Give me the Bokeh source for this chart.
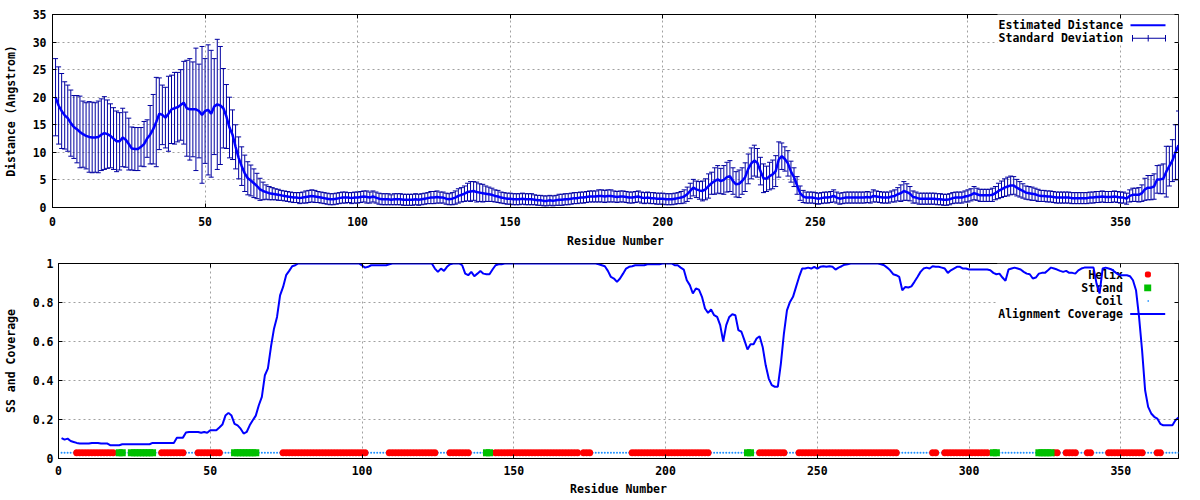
from bokeh.plotting import figure
from bokeh.layouts import column
from bokeh.models import (ColumnDataSource, Range1d, FixedTicker, LinearAxis, Whisker,
                          TeeHead, Label, BoxAnnotation, CustomJSTickFormatter)
from bokeh.embed import file_html
from bokeh.resources import INLINE

# ---------------- data ----------------
residues = list(range(1, 370))

distance = [
    20.0, 18.5, 17.5, 16.7, 16.2, 15.3, 14.6, 14.2, 13.7, 13.3,
    13.0, 12.8, 12.7, 12.7, 12.8, 13.2, 13.5, 13.3, 13.0, 12.5,
    12.0, 12.0, 12.7, 12.3, 11.5, 10.7, 10.6, 10.6, 11.0, 11.5,
    12.5, 13.2, 14.2, 15.5, 17.0, 16.8, 16.3, 17.0, 17.8, 18.0,
    18.2, 18.6, 19.0, 18.0, 17.8, 17.8, 17.8, 17.5, 16.8, 17.5,
    17.7, 17.0, 18.3, 18.7, 18.5, 18.0, 16.5, 14.5, 13.2, 11.0,
    9.0, 7.5, 6.2, 5.3, 4.9, 4.4, 3.9, 3.3, 3.0, 2.8,
    2.6, 2.5, 2.4, 2.3, 2.2, 2.1, 2.0, 1.9, 1.8, 1.8,
    1.7, 1.8, 1.9, 2.0, 2.1, 2.0, 1.9, 1.8, 1.7, 1.6,
    1.5, 1.5, 1.6, 1.7, 1.8, 1.8, 1.8, 1.7, 1.8, 1.8,
    1.9, 2.0, 1.9, 1.8, 2.0, 1.8, 1.6, 1.5, 1.5, 1.5,
    1.4, 1.5, 1.5, 1.5, 1.4, 1.4, 1.4, 1.4, 1.5, 1.4,
    1.5, 1.6, 1.7, 1.8, 1.8, 1.9, 1.8, 1.8, 1.6, 1.5,
    1.6, 1.8, 2.1, 2.3, 2.5, 2.8, 2.9, 3.0, 2.8, 2.7,
    2.6, 2.5, 2.4, 2.3, 2.1, 2.0, 1.8, 1.7, 1.6, 1.6,
    1.5, 1.5, 1.5, 1.6, 1.5, 1.5, 1.5, 1.4, 1.3, 1.3,
    1.2, 1.2, 1.3, 1.2, 1.3, 1.4, 1.4, 1.5, 1.5, 1.6,
    1.7, 1.7, 1.8, 1.8, 1.9, 2.0, 2.0, 2.0, 2.1, 2.1,
    2.0, 2.1, 2.1, 2.0, 1.9, 2.0, 2.0, 1.9, 1.8, 1.8,
    1.9, 2.0, 1.8, 1.7, 1.8, 1.7, 1.7, 1.6, 1.6, 1.6,
    1.5, 1.5, 1.5, 1.6, 1.7, 1.8, 2.0, 2.4, 3.0, 3.6,
    3.3, 3.1, 3.0, 3.3, 3.9, 4.4, 4.8, 5.1, 4.8, 5.0,
    5.5, 5.7, 4.8, 4.2, 4.3, 4.8, 5.5, 7.0, 8.0, 8.5,
    8.1, 6.6, 5.3, 5.2, 5.7, 6.0, 6.6, 8.7, 9.3, 8.8,
    8.0, 6.5, 5.5, 4.0, 2.6, 2.0, 1.8, 1.8, 1.8, 1.7,
    1.6, 1.7, 1.8, 1.8, 1.9, 2.1, 1.8, 1.6, 1.7, 1.8,
    1.8, 1.8, 1.8, 1.8, 1.8, 1.8, 1.9, 1.8, 2.1, 2.0,
    1.9, 1.8, 1.8, 1.8, 2.0, 2.1, 2.4, 2.6, 3.0, 2.8,
    2.5, 1.9, 1.8, 1.6, 1.6, 1.6, 1.6, 1.6, 1.6, 1.5,
    1.5, 1.4, 1.4, 1.5, 1.7, 1.8, 1.8, 1.8, 2.0, 2.1,
    2.3, 2.6, 2.4, 2.2, 2.2, 2.2, 2.2, 2.3, 2.6, 3.0,
    3.3, 3.6, 3.8, 4.0, 4.0, 3.6, 3.3, 3.0, 2.7, 2.6,
    2.5, 2.4, 2.2, 2.1, 2.1, 2.0, 2.0, 1.9, 1.8, 1.8,
    1.8, 1.8, 1.8, 1.7, 1.7, 1.7, 1.7, 1.7, 1.7, 1.8,
    1.8, 1.9, 1.9, 2.0, 1.9, 1.9, 1.9, 2.0, 1.9, 1.8,
    1.8, 1.6, 2.1, 2.3, 2.3, 2.3, 2.6, 3.3, 3.6, 3.6,
    3.8, 5.1, 5.1, 5.2, 6.5, 7.5, 8.5, 10.0, 11.3,
]

std_dev = [
    7.0, 7.0, 6.8, 6.1, 6.0, 6.0, 5.7, 6.1, 6.5, 6.0,
    6.0, 6.4, 6.4, 6.3, 6.5, 6.5, 6.6, 6.2, 5.8, 5.6,
    5.5, 5.2, 5.3, 5.0, 4.7, 3.9, 3.9, 3.9, 3.5, 4.1,
    3.4, 5.3, 6.3, 8.1, 6.5, 5.4, 5.5, 6.8, 6.2, 6.5,
    6.3, 6.4, 7.5, 8.7, 9.2, 8.6, 11.1, 8.5, 12.4, 9.5,
    11.8, 11.5, 8.7, 11.8, 10.7, 7.2, 5.8, 5.5, 4.5, 4.0,
    3.8, 3.5, 3.3, 3.0, 2.8, 2.6, 2.3, 2.0, 1.6, 1.3,
    1.2, 1.1, 1.0, 1.0, 0.9, 0.9, 0.9, 0.9, 0.9, 0.9,
    1.0, 1.0, 1.1, 1.1, 1.1, 1.1, 1.0, 1.0, 1.0, 1.0,
    1.0, 1.0, 1.0, 1.0, 1.0, 1.0, 0.9, 1.0, 1.0, 1.0,
    1.0, 1.0, 1.1, 1.0, 1.0, 1.0, 1.0, 1.0, 1.0, 1.0,
    0.9, 1.0, 1.0, 1.0, 1.0, 1.0, 1.0, 1.0, 1.0, 1.0,
    1.0, 1.0, 1.0, 1.1, 1.1, 1.1, 1.0, 1.0, 1.0, 1.0,
    1.1, 1.2, 1.3, 1.3, 1.4, 1.6, 1.8, 1.7, 1.8, 1.6,
    1.6, 1.4, 1.3, 1.2, 1.1, 1.1, 1.0, 1.0, 1.0, 1.0,
    1.0, 1.0, 1.0, 1.0, 1.0, 1.0, 1.0, 0.9, 0.9, 0.9,
    0.9, 0.9, 0.9, 0.9, 0.9, 1.0, 1.0, 1.0, 1.0, 1.0,
    1.0, 1.0, 1.0, 1.0, 1.0, 1.0, 1.0, 1.0, 1.1, 1.1,
    1.1, 1.1, 1.1, 1.0, 1.0, 1.0, 1.0, 1.0, 1.0, 1.0,
    1.0, 1.0, 1.0, 1.0, 1.0, 1.0, 1.0, 1.0, 1.0, 1.0,
    1.0, 1.0, 1.0, 1.0, 1.0, 1.1, 1.2, 1.3, 1.4, 1.5,
    1.5, 1.6, 1.8, 1.9, 2.2, 2.0, 2.4, 2.5, 2.3, 2.6,
    2.7, 2.8, 2.4, 2.3, 2.5, 2.4, 2.6, 2.7, 2.8, 2.8,
    2.6, 2.5, 2.6, 2.3, 2.5, 2.6, 2.8, 3.2, 2.4, 2.2,
    2.3, 1.9, 1.7, 1.6, 1.3, 1.1, 1.0, 1.0, 1.0, 1.0,
    1.0, 1.0, 1.0, 1.0, 1.0, 1.1, 1.0, 1.0, 1.0, 1.0,
    1.0, 1.0, 1.0, 1.0, 1.0, 1.0, 1.0, 1.0, 1.1, 1.0,
    1.0, 1.0, 1.0, 1.0, 1.0, 1.1, 1.2, 1.5, 1.7, 1.5,
    1.3, 1.1, 1.0, 1.0, 1.0, 1.0, 1.0, 1.0, 1.0, 1.0,
    1.0, 1.0, 1.0, 1.0, 1.0, 1.0, 1.0, 1.0, 1.0, 1.1,
    1.1, 1.2, 1.1, 1.1, 1.1, 1.1, 1.1, 1.2, 1.2, 1.4,
    1.5, 1.6, 1.7, 1.7, 1.6, 1.5, 1.4, 1.3, 1.2, 1.2,
    1.2, 1.1, 1.1, 1.0, 1.0, 1.0, 1.0, 1.0, 1.0, 1.0,
    1.0, 1.0, 1.0, 1.0, 1.0, 1.0, 1.0, 1.0, 1.0, 1.0,
    1.0, 1.0, 1.0, 1.0, 1.0, 1.0, 1.0, 1.0, 1.0, 1.0,
    1.0, 1.0, 1.1, 1.2, 1.2, 1.3, 1.5, 2.0, 2.2, 2.2,
    2.3, 2.5, 2.6, 2.7, 4.6, 3.6, 3.8, 5.0, 6.2,
]

coverage = [
    0.105, 0.097, 0.102, 0.090, 0.085, 0.080, 0.077, 0.077, 0.077, 0.077,
    0.080, 0.080, 0.080, 0.077, 0.077, 0.077, 0.068, 0.068, 0.068, 0.068,
    0.073, 0.073, 0.073, 0.073, 0.073, 0.073, 0.073, 0.073, 0.073, 0.073,
    0.080, 0.080, 0.080, 0.080, 0.080, 0.080, 0.080, 0.080, 0.106, 0.107,
    0.107, 0.133, 0.136, 0.136, 0.136, 0.136, 0.132, 0.136, 0.132, 0.145,
    0.145, 0.145, 0.159, 0.174, 0.220, 0.234, 0.220, 0.178, 0.170, 0.153,
    0.128, 0.136, 0.170, 0.196, 0.220, 0.273, 0.316, 0.427, 0.462, 0.573,
    0.666, 0.726, 0.837, 0.880, 0.940, 0.962, 0.986, 0.991, 1.000, 1.000,
    1.000, 1.000, 1.000, 1.000, 1.000, 1.000, 1.000, 1.000, 1.000, 1.000,
    1.000, 1.000, 1.000, 1.000, 1.000, 1.000, 1.000, 1.000, 1.000, 0.990,
    0.979, 0.983, 0.991, 0.991, 0.991, 0.991, 0.991, 0.991, 0.996, 1.000,
    1.000, 1.000, 1.000, 1.000, 1.000, 1.000, 1.000, 1.000, 1.000, 1.000,
    1.000, 1.000, 1.000, 0.974, 0.957, 0.974, 0.962, 0.983, 0.996, 1.000,
    1.000, 1.000, 0.991, 0.948, 0.940, 0.957, 0.935, 0.948, 0.962, 0.948,
    0.945, 0.945, 0.969, 0.991, 0.996, 0.996, 1.000, 1.000, 1.000, 1.000,
    1.000, 1.000, 1.000, 1.000, 1.000, 1.000, 1.000, 1.000, 1.000, 1.000,
    1.000, 1.000, 1.000, 1.000, 1.000, 1.000, 1.000, 1.000, 1.000, 1.000,
    1.000, 1.000, 1.000, 1.000, 1.000, 1.000, 1.000, 0.996, 0.991, 0.986,
    0.962, 0.931, 0.923, 0.906, 0.923, 0.948, 0.974, 0.983, 0.986, 0.991,
    0.991, 0.991, 0.991, 0.996, 0.996, 0.996, 0.996, 0.996, 1.000, 1.000,
    1.000, 1.000, 0.991, 0.991, 0.979, 0.969, 0.914, 0.889, 0.846, 0.872,
    0.866, 0.829, 0.769, 0.747, 0.764, 0.735, 0.726, 0.684, 0.600, 0.684,
    0.726, 0.740, 0.735, 0.658, 0.650, 0.606, 0.559, 0.586, 0.586, 0.615,
    0.627, 0.572, 0.478, 0.410, 0.376, 0.368, 0.368, 0.487, 0.641, 0.760,
    0.803, 0.829, 0.880, 0.931, 0.974, 0.974, 0.979, 0.974, 0.983, 0.974,
    0.983, 0.986, 0.983, 0.986, 0.983, 0.969, 0.979, 0.986, 0.994, 0.996,
    1.000, 1.000, 1.000, 1.000, 1.000, 1.000, 1.000, 1.000, 1.000, 1.000,
    0.996, 0.991, 0.979, 0.965, 0.945, 0.940, 0.931, 0.863, 0.880, 0.877,
    0.883, 0.906, 0.931, 0.957, 0.974, 0.979, 0.974, 0.986, 0.983, 0.983,
    0.979, 0.974, 0.952, 0.965, 0.974, 0.983, 0.983, 0.974, 0.974, 0.969,
    0.969, 0.969, 0.969, 0.969, 0.969, 0.969, 0.965, 0.952, 0.945, 0.948,
    0.928, 0.911, 0.969, 0.974, 0.979, 0.974, 0.969, 0.957, 0.948, 0.945,
    0.923, 0.928, 0.948, 0.952, 0.952, 0.965, 0.979, 0.974, 0.969, 0.962,
    0.957, 0.962, 0.952, 0.952, 0.948, 0.965, 0.974, 0.979, 0.979, 0.979,
    0.979, 0.897, 0.846, 0.974, 0.979, 0.974, 0.969, 0.957, 0.945, 0.940,
    0.940, 0.940, 0.935, 0.914, 0.863, 0.726, 0.555, 0.350, 0.265, 0.231,
    0.214, 0.205, 0.178, 0.170, 0.170, 0.170, 0.170, 0.196, 0.210,
]

# secondary structure segments (first residue, last residue); everything else is coil
helix_segments = [(6, 18), (34, 41), (46, 53), (74, 101), (109, 124), (129, 135),
                  (144, 171), (173, 175), (189, 214), (231, 239), (244, 276),
                  (288, 289), (292, 306), (328, 329), (332, 335), (339, 340),
                  (346, 357), (362, 363)]
strand_segments = [(20, 21), (24, 31), (58, 65), (141, 142), (227, 228),
                   (308, 309), (323, 327)]
ss_track_level = 0.03

x_ticks = [0, 50, 100, 150, 200, 250, 300, 350]
dist_ticks = [0, 5, 10, 15, 20, 25, 30, 35]
cov_ticks = [0, 0.2, 0.4, 0.6, 0.8, 1.0]

# ---------------- styling helpers ----------------
FONT = "DejaVu Sans Mono"
FS = "11.5px"
GRID = "#a0a0a0"


def style_axes(p, yticks, ylabel, ylabel_standoff, ylab_standoff, xlab_standoff, xaxis_standoff,
               yformatter=None):
    p.xaxis.ticker = FixedTicker(ticks=x_ticks)
    p.yaxis.ticker = FixedTicker(ticks=yticks)
    if yformatter is not None:
        p.yaxis.formatter = yformatter
    for ax in p.xaxis + p.yaxis:
        ax.major_tick_in = 4
        ax.major_tick_out = 0
        ax.minor_tick_line_color = None
        ax.axis_line_color = "black"
        ax.major_tick_line_color = "black"
        ax.major_label_text_font = FONT
        ax.major_label_text_font_size = FS
        ax.major_label_text_font_style = "bold"
        ax.major_label_text_color = "black"
        ax.axis_label_text_font = FONT
        ax.axis_label_text_font_size = FS
        ax.axis_label_text_font_style = "bold"
        ax.axis_label_text_color = "black"
    p.xaxis.axis_label = "Residue Number"
    p.xaxis.major_label_standoff = xlab_standoff
    p.xaxis.axis_label_standoff = xaxis_standoff
    p.yaxis.axis_label = ylabel
    p.yaxis.major_label_standoff = ylab_standoff
    p.yaxis.axis_label_standoff = ylabel_standoff
    p.xgrid.grid_line_color = GRID
    p.ygrid.grid_line_color = GRID
    p.xgrid.grid_line_dash = "2 3"
    p.ygrid.grid_line_dash = "2 3"
    p.xgrid.ticker = FixedTicker(ticks=x_ticks)
    p.ygrid.ticker = FixedTicker(ticks=yticks)
    # mirrored inward ticks on top and right borders
    blank = CustomJSTickFormatter(code="return ''")
    top = LinearAxis(ticker=FixedTicker(ticks=x_ticks), formatter=blank,
                     major_tick_in=4, major_tick_out=0, minor_tick_line_color=None,
                     axis_line_color=None, major_label_standoff=0,
                     major_tick_line_color="black")
    right = LinearAxis(ticker=FixedTicker(ticks=yticks), formatter=blank,
                       major_tick_in=4, major_tick_out=0, minor_tick_line_color=None,
                       axis_line_color=None, major_label_standoff=0,
                       major_tick_line_color="black")
    p.add_layout(top, "above")
    p.add_layout(right, "right")
    # keep each panel's frame where it is (no cross-panel frame alignment)
    if "frame_align" in p.properties():
        p.frame_align = False


def legend_text(p, x, y, text, level="annotation"):
    p.add_layout(Label(x=x, y=y, x_units="screen", y_units="screen", text=text,
                       text_align="right", text_baseline="middle", text_font=FONT,
                       text_font_size=FS, text_font_style="bold", text_color="black",
                       level=level))


def screen_box(p, left, right, bottom, top, color, level="annotation", radius=0):
    p.add_layout(BoxAnnotation(left=left, right=right, bottom=bottom, top=top,
                               left_units="screen", right_units="screen",
                               bottom_units="screen", top_units="screen",
                               fill_color=color, fill_alpha=1.0, line_color=None,
                               level=level, border_radius=radius))


# ---------------- top panel: distance ----------------
upper = [d + s for d, s in zip(distance, std_dev)]
lower = [d - s for d, s in zip(distance, std_dev)]
src = ColumnDataSource(dict(x=residues, d=distance, up=upper, lo=lower))

p1 = figure(width=1200, height=250, x_range=Range1d(0, 369), y_range=Range1d(0, 35),
            output_backend="svg", toolbar_location=None,
            min_border_left=52, min_border_right=22, min_border_top=14, min_border_bottom=42,
            background_fill_color="white", border_fill_color="white",
            outline_line_color="black", outline_line_width=1)
style_axes(p1, dist_ticks, "Distance (Angstrom)", 12, 6, 9, 5)

# key background (hides the grid behind the key)
screen_box(p1, 945, 1126, 164, 194, "white", level="underlay")

err_color = "#0000A0"
whisk = Whisker(source=src, base="x", upper="up", lower="lo", dimension="height",
                line_color=err_color, line_width=1, level="underlay",
                upper_head=TeeHead(size=5, line_color=err_color, line_width=1),
                lower_head=TeeHead(size=5, line_color=err_color, line_width=1))
p1.add_layout(whisk)
p1.line("x", "d", source=src, line_color="#0000FF", line_width=2.5)

# key
legend_text(p1, 1070.7, 182.3, "Estimated Distance")
legend_text(p1, 1070.7, 169.3, "Standard Deviation")
screen_box(p1, 1078, 1113, 181.3, 183.3, "#0000FF")
screen_box(p1, 1080, 1113, 168.8, 169.8, err_color)
screen_box(p1, 1079.5, 1080.5, 166, 172.5, err_color)
screen_box(p1, 1112.5, 1113.5, 166, 172.5, err_color)
screen_box(p1, 1095.2, 1096.2, 166, 172.5, err_color)

# ---------------- bottom panel: SS and coverage ----------------
ss_code = {}
for a, b in helix_segments:
    for r in range(a, b + 1):
        ss_code[r] = "H"
for a, b in strand_segments:
    for r in range(a, b + 1):
        ss_code[r] = "E"
helix_x = [r for r in residues if ss_code.get(r) == "H"]
strand_x = [r for r in residues if ss_code.get(r) == "E"]
coil_x = [r for r in residues if r not in ss_code]

p2 = figure(width=1200, height=248, x_range=Range1d(0, 369), y_range=Range1d(0, 1),
            output_backend="svg", toolbar_location=None,
            min_border_left=58, min_border_right=22, min_border_top=13, min_border_bottom=40,
            background_fill_color="white", border_fill_color="white",
            outline_line_color="black", outline_line_width=1)
style_axes(p2, cov_ticks, "SS and Coverage", 12, 5, 7, 4,
           yformatter=CustomJSTickFormatter(code="return String(Math.round(tick * 10) / 10)"))

screen_box(p2, 938.7, 1120, 138.3, 195, "white", level="underlay")

# key texts are drawn under the curves, as in the original
legend_text(p2, 1064.4, 183.3, "Helix", level="underlay")
legend_text(p2, 1064.4, 170.6, "Strand", level="underlay")
legend_text(p2, 1064.4, 157.6, "Coil", level="underlay")
legend_text(p2, 1064.4, 144.6, "Alignment Coverage", level="underlay")

p2.scatter(coil_x, [ss_track_level] * len(coil_x), marker="circle", size=2,
           fill_color="#1E90FF", line_color=None)
p2.scatter(helix_x, [ss_track_level] * len(helix_x), marker="circle", size=7,
           fill_color="#FF0000", line_color=None)
p2.scatter(strand_x, [ss_track_level] * len(strand_x), marker="square", size=7,
           fill_color="#00C000", line_color=None)
p2.line(residues, coverage, line_color="#0000FF", line_width=2)

screen_box(p2, 1086.4, 1092.4, 181, 187, "#FF0000", radius=2)
screen_box(p2, 1085.7, 1092.7, 167.3, 174, "#00C000")
screen_box(p2, 1089, 1090.5, 156.8, 158.3, "#1E90FF")
screen_box(p2, 1071.7, 1106.7, 143.6, 145.6, "#0000FF")

layout = column(p1, p2)
open("out.html", "w").write(file_html(layout, INLINE))
